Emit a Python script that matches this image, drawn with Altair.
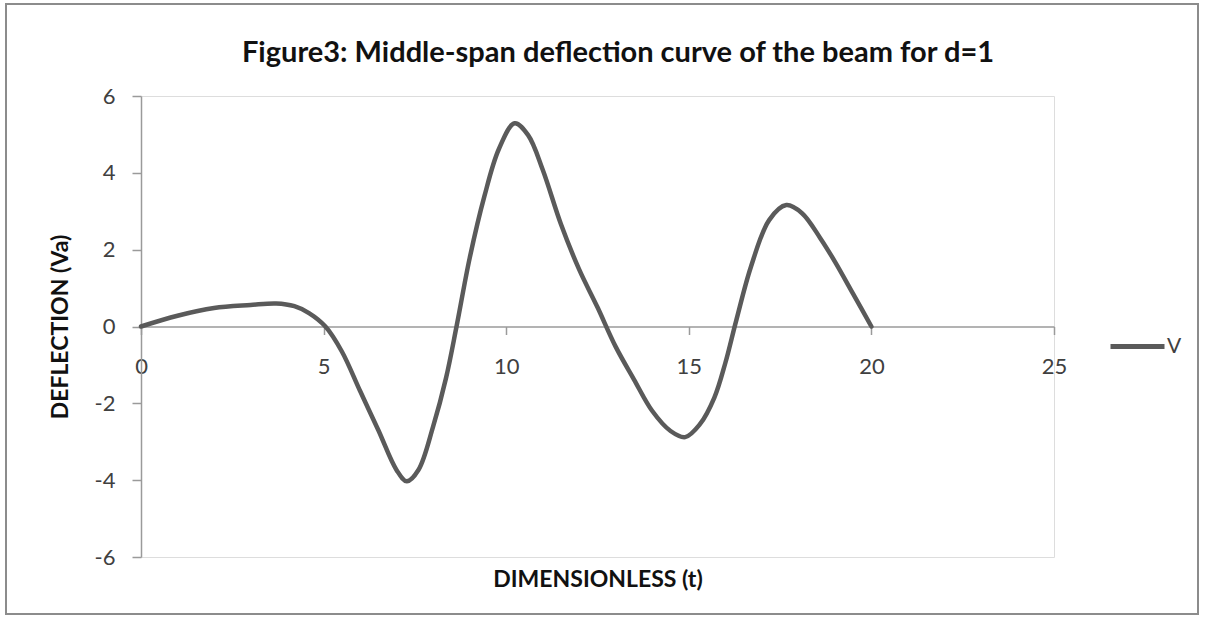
import altair as alt
import pandas as pd

# Middle-span deflection V(t) of the beam, d = 1
t_values = [
    0.0, 1.0, 2.0, 3.0, 3.7, 4.2, 4.6, 5.05, 5.5, 6.0, 6.5, 7.0, 7.28, 7.6,
    8.0, 8.35, 8.64, 9.0, 9.4, 9.8, 10.23, 10.6, 11.0, 11.5, 12.0, 12.5,
    13.0, 13.5, 14.0, 14.5, 14.9, 15.3, 15.7, 16.0, 16.3, 16.7, 17.2, 17.67,
    18.1, 18.6, 19.0, 19.5, 20.0,
]
deflection = [
    0.0, 0.28, 0.48, 0.56, 0.60, 0.53, 0.35, 0.0, -0.65, -1.68, -2.70, -3.74,
    -4.03, -3.73, -2.60, -1.35, 0.0, 1.78, 3.38, 4.62, 5.29, 4.98, 4.08,
    2.66, 1.48, 0.50, -0.53, -1.38, -2.20, -2.72, -2.88, -2.55, -1.85, -0.95,
    0.16, 1.55, 2.77, 3.16, 2.95, 2.30, 1.69, 0.85, 0.0,
]
series_name = "V"

x_ticks = [0, 5, 10, 15, 20, 25]
y_ticks = [-6, -4, -2, 0, 2, 4, 6]

TITLE = "Figure3: Middle-span deflection curve of the beam for d=1"

FONT = "Lato"
AXIS_GREY = "#9a9a9a"
LINE_GREY = "#5a5a5a"
TEXT_GREY = "#404040"

PLOT_W, PLOT_H = 913, 461

df = pd.DataFrame({"t": t_values, "V": deflection, "series": [series_name] * len(t_values)})

line = alt.Chart(df).mark_line(
    interpolate="catmull-rom", strokeWidth=4.5, strokeCap="round"
).encode(
    x=alt.X(
        "t:Q",
        scale=alt.Scale(domain=[0, 25], nice=False, zero=False),
        axis=alt.Axis(
            values=x_ticks,
            orient="bottom",
            offset=-PLOT_H / 2,
            grid=False,
            domainColor=AXIS_GREY,
            domainWidth=1.5,
            tickColor=AXIS_GREY,
            tickWidth=1.5,
            tickSize=8,
            labelFontSize=22,
            labelFont=FONT,
            labelColor=TEXT_GREY,
            labelPadding=22,
            labelFlush=False,
            labelExpr="datum.value + ''",
            title="DIMENSIONLESS (t)",
            titleFont=FONT,
            titleFontSize=23,
            titleFontWeight="bold",
            titleColor="#111111",
            titleX=PLOT_W / 2,
            titleY=253,
            titleAlign="center",
            titleBaseline="middle",
        ),
    ),
    y=alt.Y(
        "V:Q",
        scale=alt.Scale(domain=[-6, 6], nice=False),
        axis=alt.Axis(
            values=y_ticks,
            grid=False,
            domainColor=AXIS_GREY,
            domainWidth=1.5,
            tickColor=AXIS_GREY,
            tickWidth=1.5,
            tickSize=9,
            labelFontSize=22,
            labelFont=FONT,
            labelColor=TEXT_GREY,
            labelPadding=17,
            labelExpr="datum.value + ''",
            title="DEFLECTION (Va)",
            titleFont=FONT,
            titleFontSize=23,
            titleFontWeight="bold",
            titleColor="#111111",
            titleAngle=-90,
            titleX=-81,
            titleY=PLOT_H / 2,
            titleAlign="center",
            titleBaseline="middle",
        ),
    ),
    color=alt.Color(
        "series:N",
        scale=alt.Scale(range=[LINE_GREY]),
        legend=alt.Legend(
            title=None,
            orient="none",
            legendX=967,
            legendY=221,
            padding=0,
            symbolType="stroke",
            symbolSize=2916,
            symbolStrokeWidth=5,
            labelFont=FONT,
            labelFontSize=21,
            labelColor=TEXT_GREY,
            labelOffset=0,
        ),
    ),
)

single = pd.DataFrame({"k": [0]})

# Outer frame around the whole figure
frame = alt.Chart(single).mark_rect(
    filled=False, stroke="#8c8c8c", strokeWidth=2
).encode(
    x=alt.value(-135), x2=alt.value(1057), y=alt.value(-92), y2=alt.value(518)
)

# Figure heading above the plot area
heading = alt.Chart(single).mark_text(
    font=FONT, fontSize=29, fontWeight="bold", color="#111111",
    align="center", baseline="alphabetic",
).encode(
    x=alt.value(477), y=alt.value(-34), text=alt.value(TITLE)
)

chart = alt.layer(frame, heading, line).properties(
    width=PLOT_W,
    height=PLOT_H,
    autosize=alt.AutoSizeParams(type="none"),
    padding={"left": 141, "top": 96, "right": 152, "bottom": 67},
).configure_view(stroke=None).configure(background="white")

chart.save("out.html", embed_options={"renderer": "svg", "actions": False})
